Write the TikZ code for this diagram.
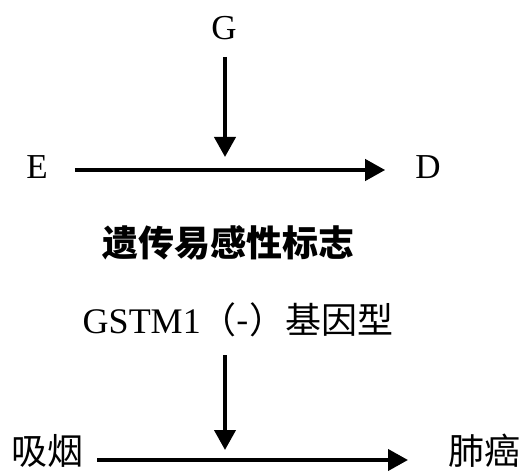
\documentclass[tikz,border=0pt]{standalone}
\usepackage{fontspec}
\setmainfont{Liberation Serif}
\newfontfamily\cjk{Noto Sans CJK SC}
\usetikzlibrary{arrows.meta}
\begin{document}
\begin{tikzpicture}[x=1pt,y=1pt,
  lbl/.style={inner sep=0pt, font=\fontsize{35}{40}\selectfont},
  cjklbl/.style={inner sep=0pt, font=\fontsize{36}{40}\selectfont\cjk},
  arr/.style={line width=4pt, -{Triangle[length=20pt,width=21pt]}}]
\useasboundingbox (0,0) rectangle (527,472);
% top
\node[lbl] (G) at (224,444) {G};
\node[lbl] (E) at (37,305) {E};
\node[lbl] (D) at (428,305) {D};
\coordinate (Gtip) at (225,315);
\draw[arr] (G.south -| Gtip) ++(0,-17) -- (Gtip);
\draw[arr, shorten <=27pt, shorten >=30pt] ([yshift=-3pt]E.east) -- ([yshift=-3pt]D.west);
% bottom
\node[cjklbl, font=\fontsize{36}{40}\selectfont\cjk\bfseries] (T) at (228,229) {遗传易感性标志};
\node[lbl, font=\fontsize{36}{40}\selectfont] (M) at (238,152) {GSTM1{\cjk （-）基因型}};
\node[cjklbl] (S) at (47,21) {吸烟};
\node[cjklbl] (L) at (484,21) {肺癌};
\coordinate (Mtip) at (225,22);
\coordinate (Mtop) at (225,117);
\draw[arr] (Mtop) -- (Mtip);
\coordinate (s1) at (97,12);
\coordinate (l1) at (408,12);
\draw[arr] (s1) -- (l1);
\end{tikzpicture}
\end{document}
